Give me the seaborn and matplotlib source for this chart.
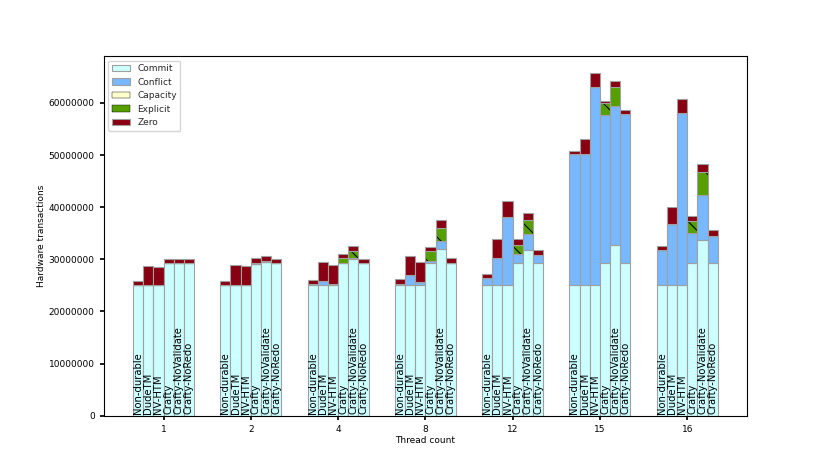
import numpy as np
import matplotlib
matplotlib.use("Agg")
import matplotlib.pyplot as plt
import matplotlib.ticker as mtick
from matplotlib.patches import Patch
import seaborn as sns

sns.set_theme(style="ticks", rc={
    "axes.edgecolor": "black",
    "xtick.color": "black",
    "ytick.color": "black",
    "axes.labelcolor": "black",
    "hatch.linewidth": 0.8,
})
plt.rcParams["font.family"] = ["DejaVu Sans"]

COMMIT = "#ccffff"
CONFLICT = "#77b8ff"
CAPACITY = "#ffffcc"
EXPLICIT = "#55a000"
ZERO = "#880011"
EDGE = "#a0a0a0"

threads = ["1", "2", "4", "8", "12", "15", "16"]
systems = ["Non-durable", "DudeTM", "NV-HTM", "Crafty", "Crafty-NoValidate", "Crafty-NoRedo"]

# values per system, one entry per thread count (in millions of transactions)
commit = {
    "Non-durable":       [25.0, 25.0, 25.0, 25.0, 25.0, 25.0, 25.0],
    "DudeTM":            [25.0, 25.0, 25.0, 25.0, 25.0, 25.0, 25.0],
    "NV-HTM":            [25.0, 25.0, 25.0, 25.0, 25.0, 25.0, 25.0],
    "Crafty":            [29.2, 29.0, 29.2, 29.2, 29.2, 29.2, 29.2],
    "Crafty-NoValidate": [29.2, 29.4, 30.1, 31.9, 31.7, 32.7, 33.7],
    "Crafty-NoRedo":     [29.2, 29.2, 29.2, 29.2, 29.2, 29.2, 29.2],
}
conflict = {
    "Non-durable":       [0.0, 0.0, 0.2, 0.3, 1.4, 25.1, 6.7],
    "DudeTM":            [0.0, 0.1, 0.8, 2.0, 5.3, 25.1, 11.7],
    "NV-HTM":            [0.0, 0.0, 0.25, 0.7, 13.1, 38.1, 33.0],
    "Crafty":            [0.0, 0.0, 0.1, 0.4, 1.9, 28.5, 5.9],
    "Crafty-NoValidate": [0.0, 0.0, 0.2, 1.6, 3.2, 26.7, 8.7],
    "Crafty-NoRedo":     [0.0, 0.0, 0.0, 0.0, 1.6, 28.7, 5.3],
}
capacity = {
    "Non-durable":       [0, 0, 0, 0, 0, 0, 0],
    "DudeTM":            [0, 0, 0, 0, 0, 0, 0],
    "NV-HTM":            [0, 0, 0, 0, 0, 0, 0],
    "Crafty":            [0, 0, 0, 0, 0, 0, 0],
    "Crafty-NoValidate": [0, 0, 0, 0, 0, 0, 0],
    "Crafty-NoRedo":     [0, 0, 0, 0, 0, 0, 0],
}
explicit = {
    "Non-durable":       [0.0, 0.0, 0.0, 0.0, 0.0, 0.0, 0.0],
    "DudeTM":            [0.0, 0.0, 0.0, 0.0, 0.0, 0.0, 0.0],
    "NV-HTM":            [0.0, 0.0, 0.0, 0.0, 0.0, 0.0, 0.0],
    "Crafty":            [0.0, 0.3, 0.9, 2.0, 1.7, 2.2, 2.2],
    "Crafty-NoValidate": [0.0, 0.3, 1.2, 2.5, 2.7, 3.6, 4.4],
    "Crafty-NoRedo":     [0.0, 0.0, 0.0, 0.0, 0.0, 0.0, 0.0],
}
zero = {
    "Non-durable":       [0.8, 0.8, 0.76, 0.85, 0.8, 0.7, 0.9],
    "DudeTM":            [3.65, 3.85, 3.6, 3.7, 3.5, 3.0, 3.4],
    "NV-HTM":            [3.6, 3.65, 3.65, 3.7, 3.1, 2.6, 2.7],
    "Crafty":            [0.8, 1.0, 0.9, 0.8, 1.0, 0.5, 1.0],
    "Crafty-NoValidate": [0.8, 0.9, 1.1, 1.5, 1.2, 1.2, 1.5],
    "Crafty-NoRedo":     [0.8, 0.9, 0.9, 1.1, 0.9, 0.8, 1.1],
}

layers = [
    ("Commit", commit, COMMIT, None),
    ("Conflict", conflict, CONFLICT, None),
    ("Capacity", capacity, CAPACITY, "/"),
    ("Explicit", explicit, EXPLICIT, "\\"),
    ("Zero", zero, ZERO, None),
]

fig, ax = plt.subplots(figsize=(8.3, 4.67), dpi=100)
fig.subplots_adjust(left=0.125, right=0.9, bottom=0.11, top=0.88)

x = np.arange(len(threads))
width = 0.7 / len(systems)

for j, sysname in enumerate(systems):
    pos = x + (j - (len(systems) - 1) / 2) * width
    bottom = np.zeros(len(threads))
    for name, data, color, hatch in layers:
        vals = np.array(data[sysname], dtype=float) * 1e6
        if hatch:
            # hatch lines in black, outline in grey drawn on top
            ax.bar(pos, vals, width, bottom=bottom, color=color, edgecolor="black",
                   linewidth=0, hatch=hatch)
            ax.bar(pos, vals, width, bottom=bottom, facecolor="none", edgecolor=EDGE,
                   linewidth=0.8)
        else:
            ax.bar(pos, vals, width, bottom=bottom, color=color, edgecolor=EDGE,
                   linewidth=0.8)
        bottom += vals
    for p in pos:
        ax.text(p, 3e5, sysname, rotation=90, ha="center", va="bottom",
                fontsize=7.2, color="black")

ax.set_xticks(x)
ax.set_xticklabels(threads)
ax.set_xlabel("Thread count", fontsize=6.5, labelpad=2)
ax.set_ylabel("Hardware transactions", fontsize=6.5, labelpad=2)
ax.yaxis.set_major_formatter(mtick.FuncFormatter(lambda v, _: f"{int(v)}"))
ax.tick_params(labelsize=6.5, length=3)
for s in ax.spines.values():
    s.set_visible(True)
    s.set_linewidth(0.8)

handles = []
for n, _, c, h in layers:
    if h:
        handles.append(Patch(facecolor=c, edgecolor="black", linewidth=0.3, hatch=h, label=n))
    else:
        handles.append(Patch(facecolor=c, edgecolor=EDGE, linewidth=0.8, label=n))
ax.legend(handles=handles, loc="upper left", fontsize=6.5, frameon=True)

plt.savefig("out.png", dpi=100)
plt.close()
